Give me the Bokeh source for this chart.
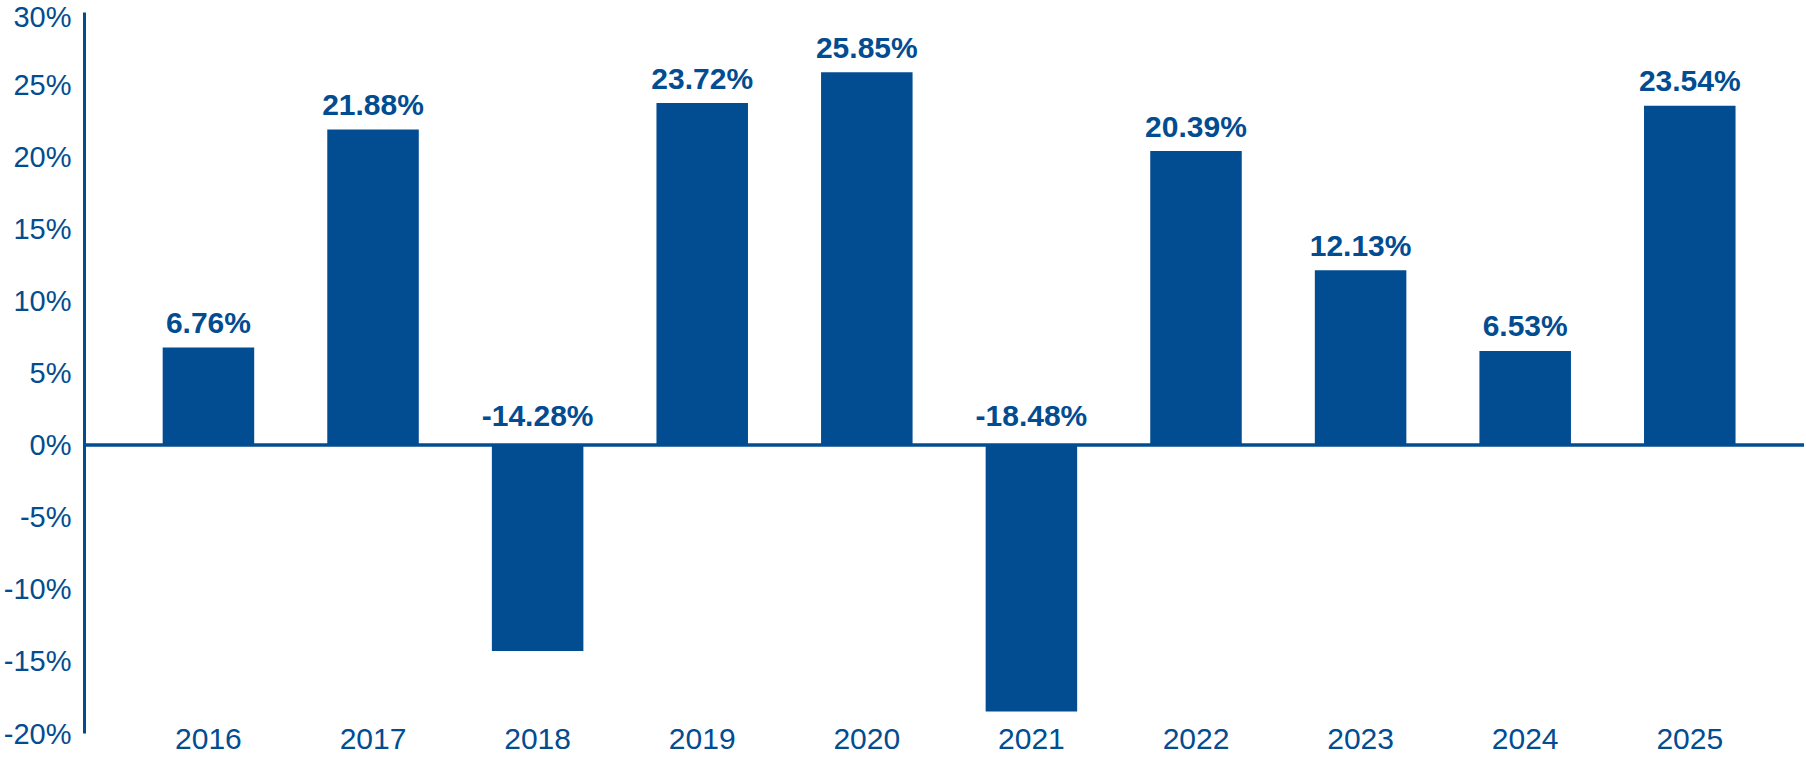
from bokeh.plotting import figure
from bokeh.models import Range1d, FixedTicker, Span, ColumnDataSource
from bokeh.core.properties import value
from bokeh.embed import file_html
from bokeh.resources import INLINE

# ---- data ----
years = ["2016", "2017", "2018", "2019", "2020", "2021", "2022", "2023", "2024", "2025"]
returns = [6.76, 21.88, -14.28, 23.72, 25.85, -18.48, 20.39, 12.13, 6.53, 23.54]
value_labels = ["6.76%", "21.88%", "-14.28%", "23.72%", "25.85%", "-18.48%",
                "20.39%", "12.13%", "6.53%", "23.54%"]
y_ticks = [-20, -15, -10, -5, 0, 5, 10, 15, 20, 25, 30]
y_tick_labels = ["-20%", "-15%", "-10%", "-5%", "0%", "5%", "10%", "15%", "20%", "25%", "30%"]

BLUE = "#024C91"
FONT = "Liberation Sans"

xs = list(range(len(years)))
src = ColumnDataSource(dict(
    x=xs,
    top=returns,
    label=value_labels,
    label_y=[max(v, 0) for v in returns],
    off=[-25 if v >= 0 else -30 for v in returns],
))

p = figure(width=1804, height=764,
           x_range=Range1d(-0.753, 9.697), y_range=Range1d(-20, 30),
           output_backend="svg", toolbar_location=None,
           min_border_left=84, min_border_right=0,
           min_border_top=12, min_border_bottom=31)
p.outline_line_color = None
p.grid.visible = False
p.background_fill_color = "white"
p.border_fill_color = "white"

p.vbar(x="x", top="top", bottom=0, width=0.556, source=src,
       fill_color=BLUE, line_color=None)
p.add_layout(Span(location=0, dimension="width", line_color=BLUE, line_width=3.5))
p.text(x="x", y="label_y", text="label", y_offset="off", source=src,
       text_align="center", text_baseline="alphabetic",
       text_font=value(FONT), text_font_style="bold",
       text_font_size="30px", text_color=BLUE)

ya = p.yaxis[0]
ya.ticker = FixedTicker(ticks=y_ticks)
ya.major_label_overrides = {t: l for t, l in zip(y_ticks, y_tick_labels)}
ya.axis_line_color = BLUE
ya.axis_line_width = 3
ya.major_tick_line_color = None
ya.minor_tick_line_color = None
ya.major_tick_out = 0
ya.major_tick_in = 0
ya.major_label_standoff = 13
ya.major_label_text_font = FONT
ya.major_label_text_font_size = "29px"
ya.major_label_text_color = BLUE

xa = p.xaxis[0]
xa.ticker = FixedTicker(ticks=xs)
xa.major_label_overrides = {i: y for i, y in zip(xs, years)}
xa.axis_line_color = None
xa.major_tick_line_color = None
xa.minor_tick_line_color = None
xa.major_tick_out = 0
xa.major_tick_in = 0
xa.major_label_standoff = -5
xa.major_label_text_font = FONT
xa.major_label_text_font_size = "30px"
xa.major_label_text_color = BLUE

open("out.html", "w").write(file_html(p, INLINE))
